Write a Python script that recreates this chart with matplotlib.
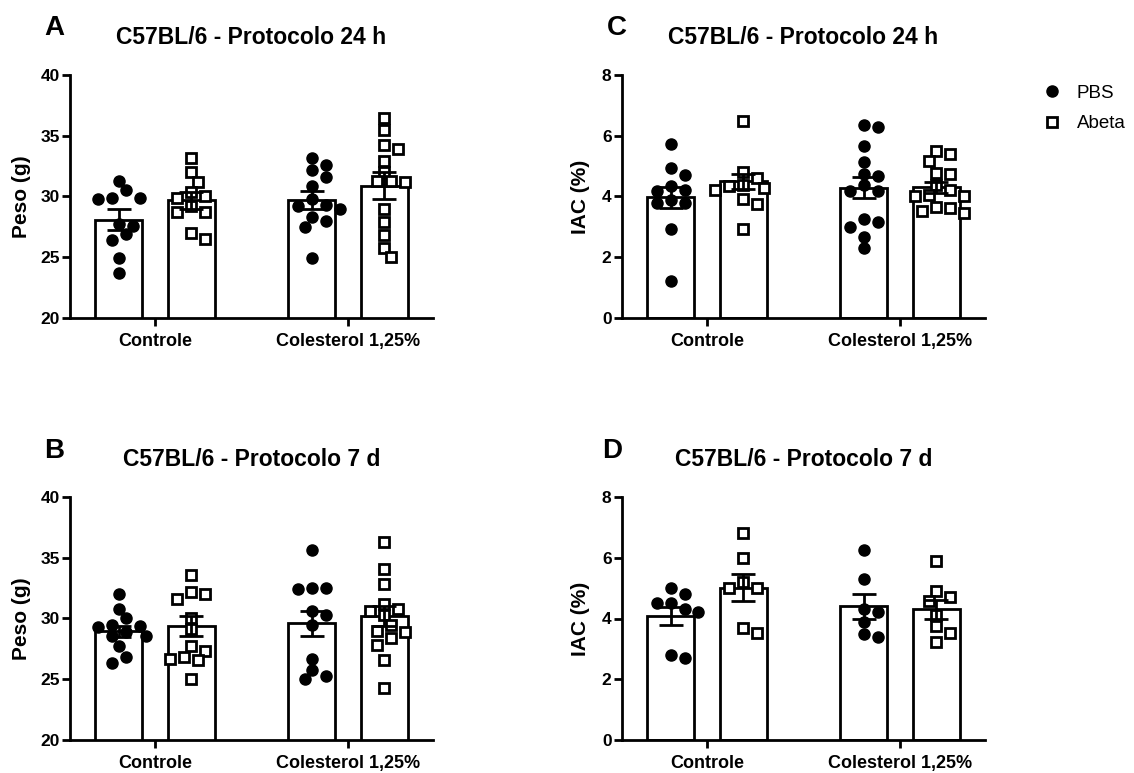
import matplotlib
matplotlib.use("Agg")
import matplotlib.pyplot as plt
from matplotlib.lines import Line2D
import numpy as np

plt.rcParams['font.family'] = ['Liberation Sans', 'DejaVu Sans']
plt.rcParams['font.weight'] = 'bold'

# ---- données ----
grupos = ["Controle", "Colesterol 1,25%"]
series = ["PBS", "Abeta"]

# A : Peso 24 h  (ordre : Controle PBS, Controle Abeta, Colesterol PBS, Colesterol Abeta)
peso_24h = [
    [31.3, 30.5, 29.9, 29.9, 29.8, 27.7, 27.6, 26.9, 26.4, 24.9, 23.7],
    [33.2, 32.0, 31.2, 30.4, 30.0, 29.9, 29.2, 28.7, 28.7, 27.0, 26.5],
    [33.2, 32.6, 32.2, 31.6, 30.9, 29.8, 29.3, 29.2, 29.0, 28.3, 28.0, 27.5, 24.9],
    [36.5, 35.5, 34.2, 33.9, 32.9, 32.0, 31.3, 31.3, 31.2, 29.0, 27.9, 26.8, 25.8, 25.0],
]
peso_24h_media = [28.1, 29.7, 29.7, 30.9]
peso_24h_sem = [0.85, 0.7, 0.72, 1.1]

# B : Peso 7 d
peso_7d = [
    [32.0, 30.8, 30.05, 29.5, 29.4, 29.3, 28.9, 28.6, 28.6, 27.7, 26.85, 26.3],
    [33.6, 32.2, 32.05, 31.6, 30.0, 29.1, 27.7, 27.3, 26.85, 26.7, 26.6, 25.0],
    [35.6, 32.5, 32.5, 32.4, 30.6, 30.3, 29.5, 26.7, 25.8, 25.3, 25.0],
    [36.3, 34.05, 32.8, 31.2, 30.8, 30.6, 30.3, 29.45, 29.0, 28.9, 28.4, 27.8, 26.6, 24.3],
]
peso_7d_media = [28.95, 29.4, 29.6, 30.2]
peso_7d_sem = [0.45, 0.8, 1.05, 0.8]

# C : IAC 24 h
iac_24h = [
    [5.73, 4.93, 4.71, 4.35, 4.22, 4.19, 3.87, 3.80, 3.80, 2.93, 1.21],
    [6.49, 4.82, 4.60, 4.38, 4.35, 4.27, 4.22, 3.91, 3.76, 2.93],
    [6.36, 6.30, 5.67, 5.13, 4.75, 4.69, 4.38, 4.19, 4.19, 3.25, 3.15, 2.98, 2.68, 2.30],
    [5.50, 5.39, 5.17, 4.77, 4.73, 4.38, 4.20, 4.05, 4.02, 4.00, 3.67, 3.62, 3.51, 3.45],
]
iac_24h_media = [3.97, 4.5, 4.29, 4.3]
iac_24h_sem = [0.35, 0.25, 0.35, 0.17]

# D : IAC 7 d
iac_7d = [
    [5.02, 4.81, 4.50, 4.50, 4.31, 4.23, 2.79, 2.70],
    [6.80, 6.00, 5.21, 5.02, 5.02, 3.70, 3.52],
    [6.27, 5.29, 4.31, 4.23, 3.90, 3.49, 3.38],
    [5.89, 4.92, 4.72, 4.59, 4.12, 3.74, 3.52, 3.21],
]
iac_7d_media = [4.07, 5.02, 4.4, 4.3]
iac_7d_sem = [0.3, 0.45, 0.42, 0.3]


#---Répartition des points (style "swarm")------------
def swarm(ax, xc, valeurs, diam=11.5):
    px_x = ax.transData.transform([[1, 0]])[0, 0] - ax.transData.transform([[0, 0]])[0, 0]
    ypx = ax.transData.transform(np.column_stack([np.full(len(valeurs), xc), valeurs]))[:, 1]
    pas = diam * 0.6
    places = []
    offs = np.zeros(len(valeurs))
    for i in np.argsort(valeurs)[::-1]:
        for k in range(60):
            c = ((k + 1) // 2) * pas * (1 if k % 2 else -1)
            if all((c - ox) ** 2 + (ypx[i] - oy) ** 2 >= (diam * 0.95) ** 2 for ox, oy in places):
                break
        places.append((c, ypx[i]))
        offs[i] = c / px_x
    return xc + offs


def painel(pos, pontos, medias, sems, ylim, yticks, ylabel, titulo, letra, letra_xy, ylab_x):
    ax = fig.add_axes(pos)
    ax.set_xlim(-0.44, 1.44)
    ax.set_ylim(*ylim)
    dx = 0.187
    larg = 0.243
    xs = [0 - dx, 0 + dx, 1 - dx, 1 + dx]
    ax.bar(xs, medias, width=larg, color='white', edgecolor='black', linewidth=2.0, zorder=1)
    ax.errorbar(xs, medias, yerr=sems, fmt='none', ecolor='black', elinewidth=2.0,
                capsize=8.5, capthick=2.0, zorder=4)
    for i, vals in enumerate(pontos):
        xp = swarm(ax, xs[i], vals)
        if i % 2 == 0:
            ax.plot(xp, vals, 'o', color='black', markersize=8, zorder=3, linestyle='none')
        else:
            ax.plot(xp, vals, 's', markerfacecolor='white', markeredgecolor='black',
                    markersize=7.5, markeredgewidth=2.0, zorder=3, linestyle='none')
    ax.set_xticks([0, 1])
    ax.set_xticklabels(grupos, fontsize=13, fontweight='bold')
    ax.set_yticks(yticks)
    ax.set_yticklabels([str(t) for t in yticks], fontsize=12.5, fontweight='bold')
    ax.set_ylabel(ylabel, fontsize=15, fontweight='bold')
    ax.yaxis.set_label_coords(ylab_x, 0.5)
    ax.set_title(titulo, fontsize=16.5, fontweight='bold', pad=22)
    for s in ['top', 'right']:
        ax.spines[s].set_visible(False)
    for s in ['left', 'bottom']:
        ax.spines[s].set_linewidth(2.0)
    ax.tick_params(axis='both', width=2.0, length=6, direction='out')
    ax.tick_params(axis='y', pad=1.5)
    ax.tick_params(axis='x', pad=4.5)
    fig.text(letra_xy[0] / W, 1 - letra_xy[1] / H, letra, fontsize=20, fontweight='bold',
             ha='center', va='center')
    return ax


W, H = 1134, 773
fig = plt.figure(figsize=(W / 100, H / 100), dpi=100)


def caixa(x0, y0, x1, y1):
    return [x0 / W, 1 - y1 / H, (x1 - x0) / W, (y1 - y0) / H]


painel(caixa(70, 75, 433, 318), peso_24h, peso_24h_media, peso_24h_sem, (20, 40),
       [20, 25, 30, 35, 40], "Peso (g)", "C57BL/6 - Protocolo 24 h", "A", (54, 28), -0.107)
painel(caixa(70, 497, 433, 740), peso_7d, peso_7d_media, peso_7d_sem, (20, 40),
       [20, 25, 30, 35, 40], "Peso (g)", "C57BL/6 - Protocolo 7 d", "B", (54, 451), -0.107)
painel(caixa(622, 75, 985, 318), iac_24h, iac_24h_media, iac_24h_sem, (0, 8),
       [0, 2, 4, 6, 8], "IAC (%)", "C57BL/6 - Protocolo 24 h", "C", (617, 28), -0.088)
painel(caixa(622, 497, 985, 740), iac_7d, iac_7d_media, iac_7d_sem, (0, 8),
       [0, 2, 4, 6, 8], "IAC (%)", "C57BL/6 - Protocolo 7 d", "D", (612, 451), -0.088)

# Légende
handles = [
    Line2D([], [], marker='o', color='black', linestyle='none', markersize=8),
    Line2D([], [], marker='s', markerfacecolor='white', markeredgecolor='black',
           markeredgewidth=2.0, linestyle='none', markersize=7.5),
]
fig.legend(handles, series, loc='upper left', bbox_to_anchor=(1016 / W, 1 - 68 / H),
           frameon=False, prop={'size': 13.5, 'weight': 'normal'}, handletextpad=0.35,
           labelspacing=0.7)

fig.savefig("out.png", dpi=100)
